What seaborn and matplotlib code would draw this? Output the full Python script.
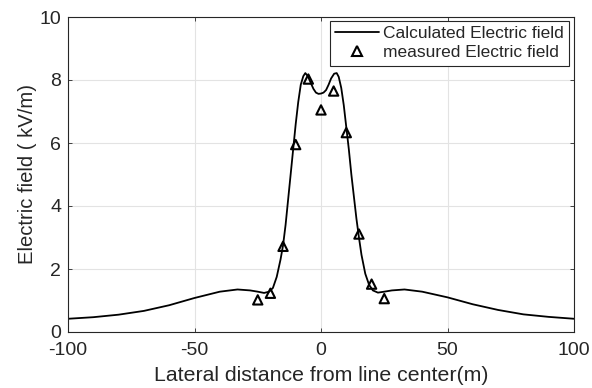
import matplotlib
matplotlib.use("Agg")
import matplotlib.pyplot as plt
import seaborn as sns
import pandas as pd
from matplotlib.lines import Line2D

# Calculated electric field
calc_x = [-100, -90, -80, -70, -60, -50, -40, -33, -28, -25, -22.5, -20.5, -19, -17.5,
          -16, -15, -14, -13, -12, -11, -10, -9, -8, -7, -6.2, -5.2, -4, -3, -2, -1, 0,
          1, 2, 3, 4, 5.2, 6.2, 7, 8, 9, 10, 11, 12, 13, 14, 15, 16, 17.5, 19, 20.5,
          22.5, 25, 28, 33, 40, 50, 60, 70, 80, 90, 100]
calc_y = [0.42, 0.47, 0.55, 0.67, 0.85, 1.08, 1.28, 1.35, 1.32, 1.28, 1.24, 1.28, 1.4, 1.75,
          2.3, 2.75, 3.4, 4.2, 5.0, 5.8, 6.6, 7.3, 7.85, 8.12, 8.22, 8.12, 7.9, 7.72, 7.6, 7.56, 7.57,
          7.6, 7.68, 7.85, 8.05, 8.2, 8.22, 8.1, 7.75, 7.2, 6.5, 5.8, 5.0, 4.3, 3.6, 3.0, 2.45, 1.85, 1.5, 1.32,
          1.25, 1.28, 1.32, 1.35, 1.28, 1.1, 0.88, 0.7, 0.56, 0.48, 0.42]

# Measured electric field
meas_x = [-25, -20, -15, -10, -5, 0, 5, 10, 15, 20, 25]
meas_y = [1.02, 1.23, 2.72, 5.95, 8.03, 7.05, 7.65, 6.33, 3.11, 1.52, 1.06]

x_ticks = [-100, -50, 0, 50, 100]
y_ticks = [0, 2, 4, 6, 8, 10]

sns.set_theme(style="whitegrid")
plt.rcParams['font.family'] = ['Liberation Sans', 'DejaVu Sans']

fig = plt.figure(figsize=(5.92, 3.88), dpi=100)
ax = fig.add_axes([68/592, 56/388, 506/592, 315/388])

calc_df = pd.DataFrame({"x": calc_x, "y": calc_y})
meas_df = pd.DataFrame({"x": meas_x, "y": meas_y})

sns.lineplot(data=calc_df, x="x", y="y", ax=ax, color="black", linewidth=1.3,
             sort=False, estimator=None)
sns.scatterplot(data=meas_df, x="x", y="y", ax=ax, marker="^", s=45,
                facecolor="none", edgecolor="black", linewidth=1.5, zorder=3)

ax.set_xlim(-100, 100)
ax.set_ylim(0, 10)
ax.set_xticks(x_ticks)
ax.set_yticks(y_ticks)
ax.set_xticklabels([str(t) for t in x_ticks])
ax.set_yticklabels([str(t) for t in y_ticks])
ax.set_facecolor("white")
ax.grid(True, color="#e3e3e3", linewidth=0.8)
for s in ax.spines.values():
    s.set_color("#262626")
    s.set_linewidth(0.8)
ax.tick_params(direction="in", length=3, width=0.6, colors="#262626",
               labelsize=14, top=True, right=True, bottom=True, left=True,
               labelcolor="#262626")
ax.tick_params(axis="x", pad=7)
ax.tick_params(axis="y", pad=5)

ax.set_xlabel("Lateral distance from line center(m)", fontsize=15.3, color="#262626", labelpad=5)
ax.set_ylabel("Electric field ( kV/m)", fontsize=14.6, color="#262626", labelpad=2)

handles = [Line2D([0], [0], color="black", linewidth=1.3),
           Line2D([0], [0], color="black", marker="^", linestyle="none",
                  markerfacecolor="none", markeredgewidth=1.5, markersize=6.5)]
leg = ax.legend(handles, ["Calculated Electric field", "measured Electric field"],
                loc="upper right", bbox_to_anchor=(1 - 5/506, 1 - 4/315), fontsize=12.5,
                frameon=True, fancybox=False, edgecolor="#262626", framealpha=1,
                borderpad=0.3, handlelength=2.5, handletextpad=0.25, labelspacing=0.22,
                borderaxespad=0)
leg.get_frame().set_linewidth(0.8)

fig.savefig("out.png", dpi=100)
